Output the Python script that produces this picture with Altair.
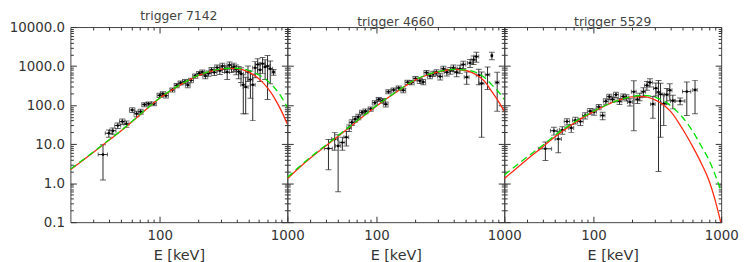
import altair as alt
import pandas as pd

FONT = "DejaVu Sans"
INK = "#333333"
ERR = "#2a2a2a"
RED = "#ff2a14"
GREEN = "#00e000"

TITLES = ["trigger 7142", "trigger 4660", "trigger 5529"]
X_MAJOR = [100, 1000]
X_MINOR = [30, 40, 50, 60, 70, 80, 90, 200, 300, 400, 500, 600, 700, 800, 900]
Y_MAJOR = [0.1, 1, 10, 100, 1000, 10000]
Y_MINOR = [0.2, 0.3, 0.4, 0.5, 0.6, 0.7, 0.8, 0.9,
           2, 3, 4, 5, 6, 7, 8, 9,
           20, 30, 40, 50, 60, 70, 80, 90,
           200, 300, 400, 500, 600, 700, 800, 900,
           2000, 3000, 4000, 5000, 6000, 7000, 8000, 9000]
X_DOMAIN = [20, 1000]
Y_DOMAIN = [0.1, 10000]

# model curves sampled at these energies (keV)
E_MODEL = [20, 30, 40, 50, 70, 100, 150, 200, 250, 300, 350, 400, 500, 600, 700, 800, 900, 1000]

# ---- trigger 7142
e_7142 = [36, 40, 43, 47, 51, 55, 61, 66, 71, 76, 82, 90, 100, 106, 112, 126, 136, 146,
          158, 166, 176, 190, 204, 216, 228, 242, 255, 268, 282, 296, 310, 324, 338, 352,
          366, 382, 398, 416, 434, 452, 472, 492, 514, 536, 560, 586, 612, 640, 670, 700, 735, 780]
de_7142 = [3, 2.5, 2.5, 2.5, 2.5, 2.5, 3, 3, 3, 3.5, 3.5, 4, 4.5, 4.5, 5, 5.5, 6, 6.5,
           7, 7, 8, 8.5, 9, 9.5, 10, 11, 11, 12, 12, 13, 13, 14, 15, 15,
           16, 17, 17, 18, 19, 20, 21, 22, 23, 24, 25, 26, 27, 28, 30, 31, 32, 22]
f_7142 = [5.4, 19, 22, 30, 38, 33, 75, 60, 68, 103, 108, 108, 178, 195, 175, 245, 320, 370,
          400, 325, 430, 560, 650, 700, 560, 650, 800, 690, 920, 760, 1000, 850, 700, 1060,
          880, 960, 830, 720, 640, 330, 290, 700, 450, 330, 900, 1100, 800, 1150, 950, 1000, 850, 700]
sf_7142 = [4.2, 4, 4, 5, 6, 6, 10, 10, 10, 12, 12, 12, 22, 25, 22, 30, 40, 45,
           50, 45, 55, 70, 80, 90, 90, 100, 120, 120, 150, 150, 180, 170, 250, 220,
           200, 230, 230, 250, 260, 270, 230, 300, 300, 290, 400, 450, 400, 500, 500, 860, 500, 120]
red_7142 = [2.2, 6.0, 12.5, 22, 56, 150, 350, 570, 730, 830, 870, 860, 700, 470, 275, 145, 70, 33]
green_7142 = [2.3, 6.2, 12.8, 22.5, 57, 152, 355, 575, 735, 845, 880, 880, 770, 590, 420, 270, 160, 88]

# ---- trigger 4660
e_4660 = [42, 47, 50, 54, 58, 61, 64, 68, 72, 77, 82, 90, 97, 104, 112, 118, 124, 136,
          149, 162, 175, 188, 202, 218, 232, 246, 262, 278, 295, 315, 334, 355, 378, 400,
          424, 450, 478, 508, 540, 575, 605, 632, 665, 740, 800, 880]
de_4660 = [3, 2.5, 2.5, 2.5, 2.5, 2.5, 3, 3, 3, 3.5, 3.5, 4, 4.5, 4.5, 5, 5, 5.5, 6,
           6.5, 7, 8, 8.5, 9, 10, 10, 11, 12, 12, 13, 14, 15, 16, 17, 18,
           19, 20, 21, 22, 24, 25, 26, 28, 29, 30, 10, 30]
f_4660 = [7.7, 13.5, 9, 11, 15, 26, 36, 44, 50, 65, 70, 80, 115, 140, 130, 105, 220, 245,
          275, 240, 385, 380, 480, 420, 390, 680, 560, 640, 690, 540, 850, 690, 770, 900,
          690, 850, 1100, 520, 1200, 1450, 1750, 580, 360, 600, 1850, 380]
sf_4660 = [5.5, 6.5, 8.4, 4, 6, 5, 6, 7, 8, 9, 10, 10, 14, 16, 18, 15, 26, 30,
           35, 32, 50, 50, 60, 60, 60, 90, 90, 100, 110, 100, 140, 130, 150, 170,
           160, 200, 230, 180, 280, 350, 500, 250, 345, 350, 400, 310]
red_4660 = [1.3, 4.3, 9.0, 16, 38, 95, 240, 435, 590, 700, 780, 820, 770, 610, 410, 220, 125, 70]
green_4660 = [1.4, 4.5, 9.4, 16.7, 39, 97, 245, 445, 600, 710, 785, 820, 800, 690, 510, 330, 220, 140]

# ---- trigger 5529
e_5529 = [42, 49, 53, 57, 62, 67, 72, 79, 86, 94, 101, 110, 118, 125, 133, 141, 150, 160,
          171, 181, 193, 207, 221, 230, 246, 262, 277, 292, 308, 323, 335, 355, 375, 396,
          418, 477, 538, 624]
de_5529 = [5, 3, 3, 3, 3, 3, 3.5, 4, 4, 4.5, 4.5, 5, 5, 5.5, 6, 6, 6.5, 7,
           7.5, 8, 8.5, 9, 9.5, 10, 10, 11, 12, 12, 13, 13, 14, 15, 15, 16,
           17, 43, 40, 25]
f_5529 = [7.6, 22, 13.5, 23, 38, 26, 41, 38, 54, 70, 67, 90, 54, 125, 165, 140, 185, 125,
          165, 155, 120, 220, 140, 165, 220, 320, 380, 106, 270, 215, 190, 110, 185, 240,
          130, 127, 222, 245]
sf_5529 = [3.8, 5, 7.5, 5, 7, 6, 8, 8, 10, 12, 12, 14, 12, 20, 25, 22, 28, 22,
           28, 28, 25, 198, 30, 35, 60, 80, 90, 60, 100, 213, 175, 80, 80, 110,
           50, 25, 168, 185]
red_5529 = [1.3, 4.0, 8.5, 15.5, 34, 68, 126, 163, 165, 138, 104, 70, 24, 8.5, 3.2, 1.2, 0.35, 0.09]
green_5529 = [1.6, 4.6, 9.3, 17, 36, 70, 126, 165, 178, 162, 132, 98, 48, 21, 8.8, 4.0, 1.6, 0.6]

PANELS = [
    (e_7142, de_7142, f_7142, sf_7142, red_7142, green_7142),
    (e_4660, de_4660, f_4660, sf_4660, red_4660, green_4660),
    (e_5529, de_5529, f_5529, sf_5529, red_5529, green_5529),
]

W, H = 219, 197
MAJ, MIN = 6, 3
xs = alt.Scale(type="log", domain=X_DOMAIN, nice=False)
ys = alt.Scale(type="log", domain=Y_DOMAIN, nice=False)

# An axis placed on the opposite edge (negative offset = the whole panel size)
# draws its ticks pointing into the panel, as in the original figure.
OPP = {"bottom": ("top", H), "top": ("bottom", H), "left": ("right", W), "right": ("left", W)}


def tick_axis(edge, values, size):
    orient, span = OPP[edge]
    return alt.Axis(orient=orient, values=values, tickSize=size, offset=-span,
                    domain=False, grid=False, labels=False, tickColor=INK,
                    tickWidth=1, title=None)


def panel(idx, e, de, f, sf, red, green):
    pts = pd.DataFrame({"E": e, "dE": de, "F": f, "sF": sf})
    pts["Elo"] = pts["E"] - pts["dE"]
    pts["Ehi"] = pts["E"] + pts["dE"]
    pts["Flo"] = pts["F"] - pts["sF"]
    pts["Fhi"] = pts["F"] + pts["sF"]
    red_df = pd.DataFrame({"E": E_MODEL, "F": red})
    green_df = pd.DataFrame({"E": E_MODEL, "F": green})

    x_labels = alt.Axis(orient="bottom", values=X_MAJOR, ticks=False,
                        domain=False, grid=False, labels=True, format="d",
                        labelFont=FONT, labelFontSize=13.5, labelColor=INK,
                        labelPadding=7, labelFlush=False, labelOverlap=False,
                        title="E [keV]", titleFont=FONT, titleFontSize=14.5,
                        titleFontWeight="normal", titleColor=INK, titlePadding=6)
    if idx == 0:
        y_labels = alt.Axis(orient="left", values=Y_MAJOR, ticks=False,
                            domain=False, grid=False, labels=True, format=".1f",
                            labelFont=FONT, labelFontSize=13.5, labelColor=INK,
                            labelPadding=6, labelFlush=False, labelOverlap=False,
                            title=None)
    else:
        y_labels = None

    def X(field, axis):
        if axis is None:
            return alt.X(field, type="quantitative", scale=xs, axis=None)
        return alt.X(field, type="quantitative", scale=xs, axis=axis)

    def Y(field, axis):
        if axis is None:
            return alt.Y(field, type="quantitative", scale=ys, axis=None)
        return alt.Y(field, type="quantitative", scale=ys, axis=axis)

    base = alt.Chart(pts)
    yerr = base.mark_rule(color=ERR, strokeWidth=1, clip=True).encode(
        x=X("E", x_labels), y=Y("Flo", y_labels), y2="Fhi:Q",
    )
    xerr = base.mark_rule(color=ERR, strokeWidth=1, clip=True).encode(
        x=X("Elo", tick_axis("bottom", X_MAJOR, MAJ)), x2="Ehi:Q",
        y=Y("F", tick_axis("left", Y_MAJOR, MAJ)),
    )
    cap_lo = base.mark_tick(orient="horizontal", size=6, thickness=1, color=ERR, clip=True).encode(
        x=X("E", tick_axis("bottom", X_MINOR, MIN)),
        y=Y("Flo", tick_axis("left", Y_MINOR, MIN)),
    )
    cap_hi = base.mark_tick(orient="horizontal", size=6, thickness=1, color=ERR, clip=True).encode(
        x=X("E", tick_axis("top", X_MAJOR, MAJ)),
        y=Y("Fhi", tick_axis("right", Y_MAJOR, MAJ)),
    )
    capx_lo = base.mark_tick(orient="vertical", size=4, thickness=1, color=ERR, clip=True).encode(
        x=X("Elo", tick_axis("top", X_MINOR, MIN)),
        y=Y("F", tick_axis("right", Y_MINOR, MIN)),
    )
    capx_hi = base.mark_tick(orient="vertical", size=4, thickness=1, color=ERR, clip=True).encode(
        x=X("Ehi", None), y=Y("F", None),
    )
    dots = base.mark_circle(size=7, color="black", opacity=1).encode(
        x=X("E", None), y=Y("F", None),
    )
    red_line = alt.Chart(red_df).mark_line(color=RED, strokeWidth=1.3,
                                           interpolate="monotone", clip=True).encode(
        x=X("E", None), y=Y("F", None),
    )
    green_line = alt.Chart(green_df).mark_line(color=GREEN, strokeWidth=1.3,
                                               strokeDash=[7, 4],
                                               interpolate="monotone", clip=True).encode(
        x=X("E", None), y=Y("F", None),
    )
    return alt.layer(yerr, xerr, cap_lo, cap_hi, capx_lo, capx_hi, dots,
                     red_line, green_line).resolve_axis(
        x="independent", y="independent"
    ).properties(
        width=W, height=H,
        title=alt.TitleParams(TITLES[idx], font=FONT, fontSize=12.5, fontWeight="normal",
                              color="#444444", anchor="middle", offset=-2),
    )


charts = [panel(i, *p) for i, p in enumerate(PANELS)]
chart = alt.hconcat(*charts, spacing=0, bounds="flush").configure_view(
    stroke="#444444", strokeWidth=1
).properties(padding=0)

chart.save("out.html", embed_options={"renderer": "svg", "actions": False})
